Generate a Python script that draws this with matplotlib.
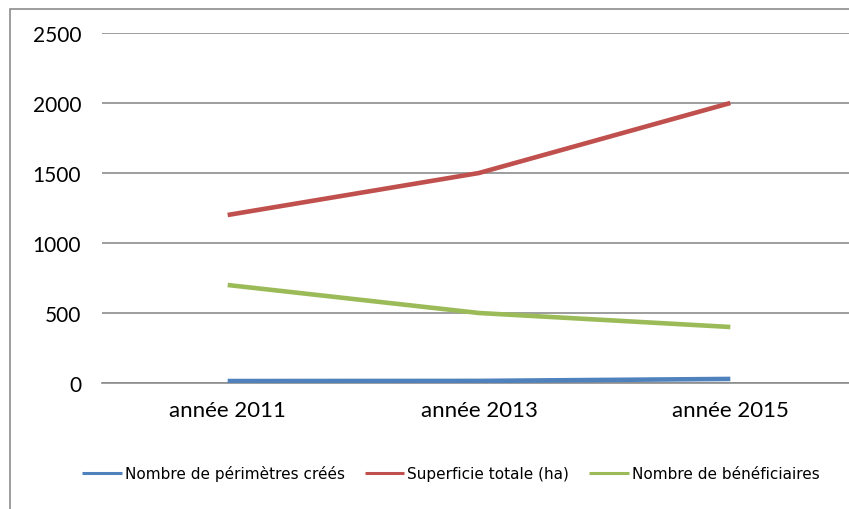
import numpy as np
import matplotlib
matplotlib.use("Agg")
import matplotlib.pyplot as plt
from matplotlib.patches import Rectangle

# Data
years = ["année 2011", "année 2013", "année 2015"]
perimetres = [14, 15, 29]
superficie = [1200, 1500, 2000]
beneficiaires = [700, 500, 400]

series_labels = [
    "Nombre de périmètres créés",
    "Superficie totale (ha)",
    "Nombre de bénéficiaires",
]
colors = ["#4F81BD", "#C0504D", "#9BBB59"]

tick_font = ["Lato", "DejaVu Sans"]

fig = plt.figure(figsize=(8.49, 5.10), dpi=100)

# outer chart frame (cropped on the right and bottom like the original)
fig.patches.append(Rectangle((10 / 849, -0.1), 1.2, 1 - 10 / 510 + 0.1,
                             transform=fig.transFigure, fill=False,
                             edgecolor="#8c8c8c", linewidth=1.2))

ax = fig.add_axes([102 / 849, 1 - 384 / 510, (856 - 102) / 849, 350 / 510])

x = np.arange(len(years))
for vals, lab, col in zip([perimetres, superficie, beneficiaires], series_labels, colors):
    ax.plot(x, vals, color=col, linewidth=3.3, label=lab, solid_capstyle="butt", zorder=3)

ax.set_xlim(-0.5, len(years) - 0.5)
ax.set_ylim(0, 2500)
ax.set_yticks(np.arange(0, 2501, 500))
ax.set_xticks(x)
ax.set_xticklabels(years)

for s in ["left", "right", "top"]:
    ax.spines[s].set_visible(False)
ax.spines["bottom"].set_color("#8c8c8c")
ax.spines["bottom"].set_linewidth(1.2)
ax.grid(axis="y", color="#8c8c8c", linewidth=1.2, zorder=0)
ax.set_axisbelow(True)

ax.tick_params(axis="both", length=0)
ax.tick_params(axis="y", pad=15)
ax.tick_params(axis="x", pad=12)
for lbl in ax.get_yticklabels():
    lbl.set_family(tick_font)
    lbl.set_fontsize(15)
for lbl in ax.get_xticklabels():
    lbl.set_family(tick_font)
    lbl.set_fontsize(16)

leg = fig.legend(loc="center", bbox_to_anchor=(0.531, 1 - 474 / 510), ncol=3,
                 frameon=False, fontsize=11, handlelength=2.6, handletextpad=0.2,
                 columnspacing=1.3)
for h in leg.get_lines():
    h.set_linewidth(2.2)

fig.savefig("out.png", dpi=100)
